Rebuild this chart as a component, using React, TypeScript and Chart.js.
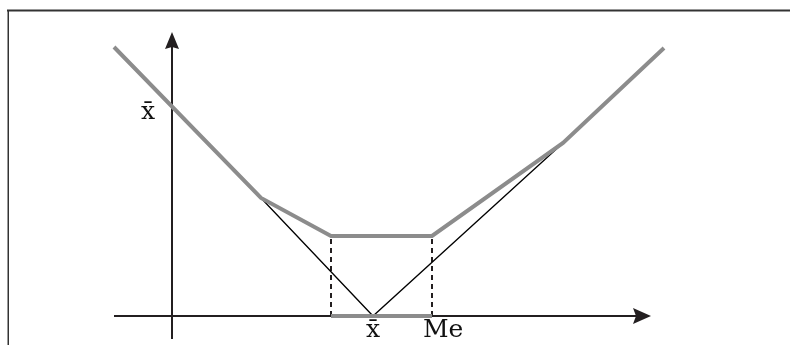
import React, { useEffect, useRef } from "react";
import { Chart, registerables } from "chart.js";

Chart.register(...registerables);

// Visible value window of the diagram (data units)
const xRange = [-17.2, 61.8];
const yRange = [-2.9, 31.6];

// Thick grey envelope curve
const envelopeX = [-5.8, 8.9, 15.9, 26.0, 39.1, 49.2];
const envelopeY = [26.9, 11.8, 8.0, 8.0, 17.3, 26.8];

// Thin black V (|x - x̄|)
const vX = [8.9, 20.1, 39.1];
const vY = [11.8, 0, 17.3];

// Interval [lower, Me] and flat level
const intervalX = [15.9, 26.0];
const intervalLevel = 8.0;

// Axes extents
const xAxisSpan = [-5.8, 47.9];
const yAxisSpan = [-2.3, 28.4];

// Labels
const labelTexts = ["x\u0304", "x\u0304", "Me"];
const labelX = [-2.4, 20.1, 25.1];
const labelY = [19.7, -2.1, -2.1];
const labelAlign: CanvasTextAlign[] = ["center", "center", "left"];

const AXIS = "#231f20";
const GREY = "#8c8c8c";

const pts = (xs: number[], ys: number[]) => xs.map((x, i) => ({ x, y: ys[i] }));

const decorPlugin = {
  id: "decor",
  beforeDatasetsDraw(chart: any) {
    const ctx = chart.ctx;
    ctx.save();
    // frame
    ctx.strokeStyle = "#333333";
    ctx.lineWidth = 2;
    ctx.beginPath();
    ctx.moveTo(7, 10.5);
    ctx.lineTo(790, 10.5);
    ctx.stroke();
    ctx.lineWidth = 1.5;
    ctx.beginPath();
    ctx.moveTo(8.25, 10);
    ctx.lineTo(8.25, 345);
    ctx.stroke();
    ctx.restore();
  },
  afterDatasetsDraw(chart: any) {
    const ctx = chart.ctx;
    const sx = chart.scales.x;
    const sy = chart.scales.y;
    ctx.save();
    ctx.fillStyle = AXIS;
    // x arrow
    const tx = sx.getPixelForValue(xAxisSpan[1]);
    const ty = sy.getPixelForValue(0);
    ctx.beginPath();
    ctx.moveTo(tx, ty);
    ctx.lineTo(tx - 18, ty - 8);
    ctx.lineTo(tx - 15, ty);
    ctx.lineTo(tx - 18, ty + 8);
    ctx.closePath();
    ctx.fill();
    // y arrow
    const ux = sx.getPixelForValue(0);
    const uy = sy.getPixelForValue(yAxisSpan[1]);
    ctx.beginPath();
    ctx.moveTo(ux, uy);
    ctx.lineTo(ux + 7, uy + 17);
    ctx.lineTo(ux, uy + 15);
    ctx.lineTo(ux - 7, uy + 17);
    ctx.closePath();
    ctx.fill();
    // labels
    ctx.fillStyle = "#111111";
    ctx.font = "25px 'DejaVu Serif'";
    ctx.textBaseline = "alphabetic";
    labelTexts.forEach((t, i) => {
      ctx.textAlign = labelAlign[i];
      ctx.fillText(t, sx.getPixelForValue(labelX[i]), sy.getPixelForValue(labelY[i]));
    });
    ctx.restore();
  },
};

export default function App() {
  const ref = useRef<HTMLCanvasElement | null>(null);
  useEffect(() => {
    if (!ref.current) return;
    const line = (data: any, color: string, width: number, order: number, dash: number[] = []) => ({
      data,
      showLine: true,
      borderColor: color,
      backgroundColor: color,
      borderWidth: width,
      borderDash: dash,
      pointRadius: 0,
      pointHoverRadius: 0,
      fill: false,
      tension: 0,
      order,
    });
    const chart = new Chart(ref.current, {
      type: "scatter",
      data: {
        datasets: [
          line(pts(envelopeX, envelopeY), GREY, 4, 0),
          line(pts(intervalX, [0, 0]), GREY, 4, 1),
          line(pts(vX, vY), "#000000", 1.3, 2),
          line(pts([intervalX[0], intervalX[0]], [0, intervalLevel]), AXIS, 2, 3, [5, 4]),
          line(pts([intervalX[1], intervalX[1]], [0, intervalLevel]), AXIS, 2, 3, [5, 4]),
          line(pts([xAxisSpan[0], xAxisSpan[1] - 1.5], [0, 0]), AXIS, 2, 4),
          line(pts([0, 0], [yAxisSpan[0], yAxisSpan[1] - 1.5]), AXIS, 2, 4),
        ] as any,
      },
      options: {
        animation: false,
        responsive: false,
        devicePixelRatio: 1,
        layout: { padding: 0 },
        plugins: { legend: { display: false }, tooltip: { enabled: false } },
        events: [],
        scales: {
          x: { type: "linear", min: xRange[0], max: xRange[1], display: false },
          y: { type: "linear", min: yRange[0], max: yRange[1], display: false },
        },
      },
      plugins: [decorPlugin],
    } as any);
    return () => chart.destroy();
  }, []);
  return (
    <div style={{ position: "fixed", left: 0, top: 0, width: 790, height: 345, background: "#ffffff" }}>
      <canvas ref={ref} width={790} height={345} style={{ display: "block" }} />
    </div>
  );
}
